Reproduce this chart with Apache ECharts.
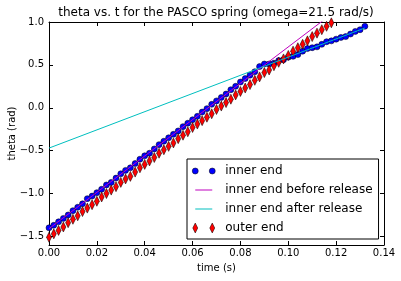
<!DOCTYPE html>
<html>
<head>
<meta charset="utf-8">
<script src="https://cdn.jsdelivr.net/npm/echarts@6/dist/echarts.min.js"></script>
<style>html,body{margin:0;padding:0;background:#fff;}#c{width:401px;height:281px;}</style>
</head>
<body>
<div id="c"></div>
<script>
// ---- data ----
const innerT = [0.000,0.002,0.004,0.006,0.008,0.010,0.012,0.014,0.016,0.018,
  0.020,0.022,0.024,0.026,0.028,0.030,0.032,0.034,0.036,0.038,
  0.040,0.042,0.044,0.046,0.048,0.050,0.052,0.054,0.056,0.058,
  0.060,0.062,0.064,0.066,0.068,0.070,0.072,0.074,0.076,0.078,
  0.080,0.082,0.084,0.086,0.088,0.090,0.092,0.094,0.096,0.098,
  0.100,0.102,0.104,0.106,0.108,0.110,0.112,0.114,0.116,0.118,
  0.120,0.122,0.124,0.126,0.128,0.130,0.132];
const innerTheta = [-1.40,-1.37,-1.33,-1.29,-1.25,-1.20,-1.16,-1.12,-1.06,-1.03,
  -0.99,-0.95,-0.90,-0.87,-0.82,-0.77,-0.73,-0.70,-0.65,-0.60,
  -0.56,-0.53,-0.48,-0.43,-0.39,-0.35,-0.31,-0.27,-0.22,-0.18,
  -0.14,-0.10,-0.05,-0.01,0.04,0.08,0.12,0.16,0.21,0.25,
  0.30,0.34,0.38,0.42,0.48,0.51,0.51,0.52,0.55,0.56,
  0.59,0.60,0.62,0.66,0.69,0.70,0.71,0.74,0.77,0.78,
  0.80,0.82,0.83,0.86,0.89,0.91,0.95];
const outerT = [0.000,0.002,0.004,0.006,0.008,0.010,0.012,0.014,0.016,0.018,
  0.020,0.022,0.024,0.026,0.028,0.030,0.032,0.034,0.036,0.038,
  0.040,0.042,0.044,0.046,0.048,0.050,0.052,0.054,0.056,0.058,
  0.060,0.062,0.064,0.066,0.068,0.070,0.072,0.074,0.076,0.078,
  0.080,0.082,0.084,0.086,0.088,0.090,0.092,0.094,0.096,0.098,
  0.100,0.102,0.104,0.106,0.108,0.110,0.112,0.114,0.116,0.118];
const outerTheta = [-1.51,-1.47,-1.43,-1.39,-1.34,-1.30,-1.26,-1.21,-1.17,-1.13,
  -1.09,-1.04,-1.00,-0.96,-0.92,-0.87,-0.83,-0.80,-0.75,-0.70,
  -0.66,-0.62,-0.58,-0.53,-0.49,-0.45,-0.41,-0.36,-0.32,-0.28,
  -0.23,-0.19,-0.15,-0.11,-0.07,-0.02,0.02,0.06,0.10,0.15,
  0.19,0.23,0.27,0.32,0.36,0.41,0.44,0.49,0.53,0.57,
  0.61,0.66,0.70,0.74,0.78,0.83,0.87,0.91,0.95,0.99];
const beforeT = [0.000, 0.132];
const beforeTheta = [-1.41, 1.388];
const afterT = [0.000, 0.132];
const afterTheta = [-0.47, 0.93];
const xTicks = [0.00,0.02,0.04,0.06,0.08,0.10,0.12,0.14];
const yTicks = [-1.5,-1.0,-0.5,0.0,0.5,1.0];
const names = ['inner end','inner end before release','inner end after release','outer end'];
const titleText = 'theta vs. t for the PASCO spring (omega=21.5 rad/s)';

const zip = (a, b) => a.map((v, i) => [v, b[i]]);
const FONT = 'DejaVu Sans';
const fmtY = v => v.toFixed(1).replace('-', '\u2212');
const fmtX = v => v.toFixed(2).replace('-', '\u2212');

const BOX = 'M0,0M28,10';
const iconDots = 'path://' + BOX + 'M0,5a3,3 0 1,0 6,0a3,3 0 1,0 -6,0zM17,5a3,3 0 1,0 6,0a3,3 0 1,0 -6,0z';
const iconLine = 'path://' + BOX + 'M3,4.5L20,4.5L20,5.5L3,5.5Z';
const iconDiam = 'path://' + BOX + 'M3,0L5.5,5L3,10L0.5,5ZM20,0L22.5,5L20,10L17.5,5Z';

const axisCommon = {
  type: 'value', splitLine: {show: false},
  axisLine: {show: true, onZero: false, lineStyle: {color: '#000', width: 1}},
  axisTick: {show: true, inside: true, length: 4, lineStyle: {color: '#000', width: 1}}
};

const chart = echarts.init(document.getElementById('c'), null, {renderer: 'canvas'});
chart.setOption({
  animation: false,
  backgroundColor: '#fff',
  textStyle: {fontFamily: FONT},
  title: {
    text: titleText, left: 216, top: 7, padding: 0, textAlign: 'center',
    textStyle: {fontFamily: FONT, fontSize: 12, fontWeight: 'normal', color: '#000'}
  },
  grid: {left: 49, right: 17, top: 22, bottom: 36, containLabel: false, outerBoundsMode: 'none'},
  xAxis: [
    Object.assign({}, axisCommon, {
      min: 0, max: 0.14, interval: 0.02, position: 'bottom',
      name: 'time (s)', nameLocation: 'middle', nameGap: 18, nameMoveOverlap: false,
      nameTextStyle: {fontFamily: FONT, fontSize: 10, color: '#000'},
      axisLabel: {show: true, formatter: fmtX, fontFamily: FONT, fontSize: 10, color: '#000', margin: 3}
    }),
    Object.assign({}, axisCommon, {
      min: 0, max: 0.14, interval: 0.02, position: 'top',
      axisLabel: {show: false}
    })
  ],
  yAxis: [
    Object.assign({}, axisCommon, {
      min: -1.6, max: 1.0, position: 'left',
      name: 'theta (rad)', nameLocation: 'middle', nameGap: 32, nameRotate: 90, nameMoveOverlap: false,
      nameTextStyle: {fontFamily: FONT, fontSize: 10, color: '#000'},
      axisTick: Object.assign({}, axisCommon.axisTick, {customValues: yTicks}),
      axisLabel: {show: true, customValues: yTicks, formatter: fmtY, fontFamily: FONT, fontSize: 10, color: '#000', margin: 5}
    }),
    Object.assign({}, axisCommon, {
      min: -1.6, max: 1.0, position: 'right',
      axisTick: Object.assign({}, axisCommon.axisTick, {customValues: yTicks}),
      axisLabel: {show: false, customValues: yTicks}
    })
  ],
  legend: {
    orient: 'vertical', left: 187, top: 159,
    padding: [6, 6, 5, 5], itemGap: 7, itemWidth: 28, itemHeight: 10,
    backgroundColor: '#fff', borderColor: '#000', borderWidth: 1, borderRadius: 0,
    textStyle: {fontFamily: FONT, fontSize: 12, color: '#000', padding: [0, 0, 0, 0]},
    selectedMode: false,
    data: [
      {name: names[0], icon: iconDots, itemStyle: {color: '#0000ff', borderColor: '#000', borderWidth: 0.5}},
      {name: names[1], icon: iconLine, itemStyle: {color: '#bf00bf', borderWidth: 0}},
      {name: names[2], icon: iconLine, itemStyle: {color: '#00bfbf', borderWidth: 0}},
      {name: names[3], icon: iconDiam, itemStyle: {color: '#ff0000', borderColor: '#000', borderWidth: 0.5}}
    ]
  },
  series: [
    {
      name: names[0], type: 'scatter', data: zip(innerT, innerTheta),
      symbol: 'circle', symbolSize: 6,
      itemStyle: {color: '#0000ff', borderColor: '#000', borderWidth: 0.5, opacity: 1}
    },
    {
      name: names[1], type: 'line', data: zip(beforeT, beforeTheta),
      symbol: 'none', clip: true,
      lineStyle: {color: '#bf00bf', width: 1}, itemStyle: {color: '#bf00bf'}
    },
    {
      name: names[2], type: 'line', data: zip(afterT, afterTheta),
      symbol: 'none', clip: true,
      lineStyle: {color: '#00bfbf', width: 1}, itemStyle: {color: '#00bfbf'}
    },
    {
      name: names[3], type: 'scatter', data: zip(outerT, outerTheta),
      symbol: 'path://M5,0L10,10L5,20L0,10Z', symbolSize: [5, 10],
      itemStyle: {color: '#ff0000', borderColor: '#000', borderWidth: 0.5, opacity: 1}
    }
  ]
});
</script>
</body>
</html>
